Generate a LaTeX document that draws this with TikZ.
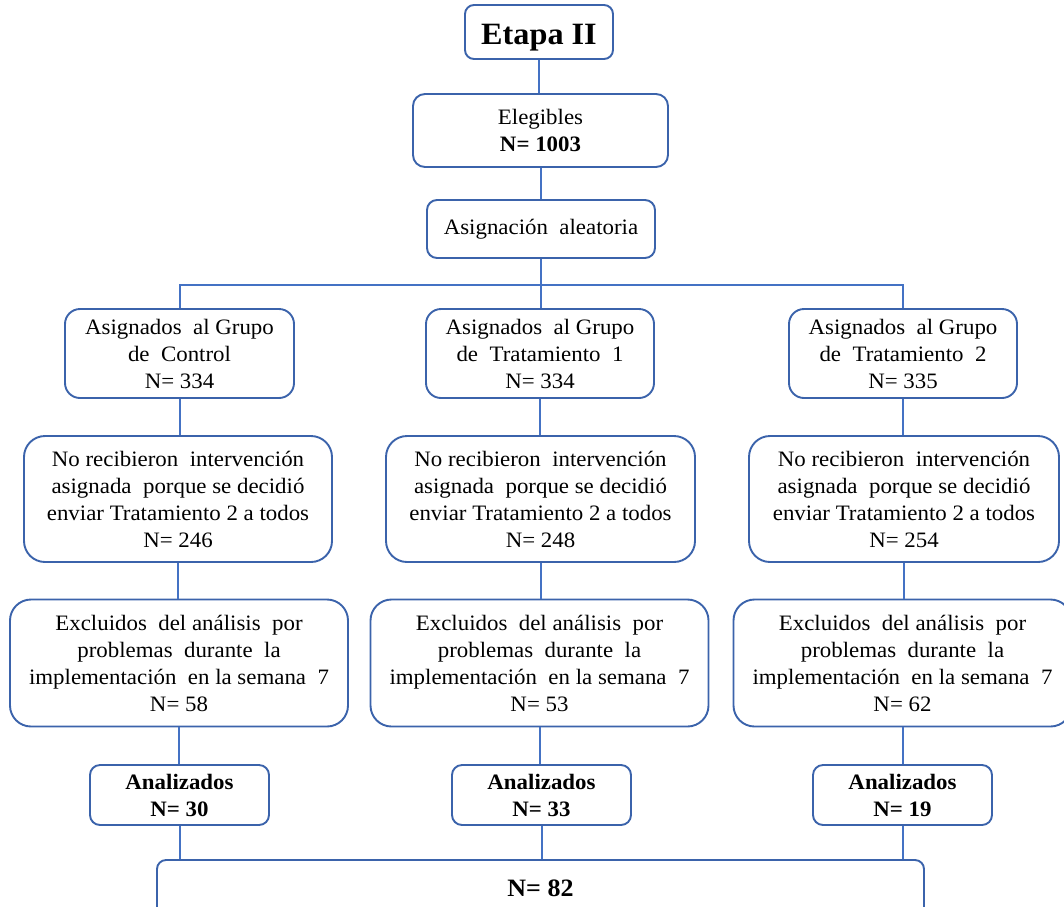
\documentclass[tikz,border=0pt]{standalone}
\usepackage{fontspec}
\setmainfont{Liberation Serif}[FakeStretch=1.04]
\definecolor{lnc}{HTML}{4472C4}
\definecolor{bdc}{HTML}{3B63AB}
\begin{document}
\begin{tikzpicture}[x=1pt,y=-1pt,
  box/.style={draw=bdc, line width=1.9pt, rounded corners=#1, align=center, inner sep=0pt, fill=white,
    font=\fontsize{22}{27}\selectfont},
  bbox/.style={box=#1, font=\fontsize{22}{27}\selectfont\bfseries},
  conn/.style={draw=lnc, line width=2pt}]
\useasboundingbox (0,0) rectangle (1064,906);
\clip (0,0) rectangle (1064,906);
% top chain
\node[box=9, minimum width=148pt, minimum height=54pt, text height=24pt, text depth=0pt, font=\fontsize{31}{34}\selectfont\bfseries] (etapa) at (539,32) {Etapa II};
\node[box=12, minimum width=255pt, minimum height=73pt] (eleg) at (540.5,130.5) {Elegibles\\\textbf{N= 1003}};
\node[box=10, minimum width=228pt, minimum height=58pt] (asig) at (541,229) {Asignación\ \ aleatoria};
% row 1
\node[box=15, minimum width=229pt, minimum height=89pt] (c1) at (179.5,353.5) {Asignados\ \ al Grupo\\de\ \ Control\\N= 334};
\node[box=15, minimum width=228pt, minimum height=89pt] (t1) at (540,353.5) {Asignados\ \ al Grupo\\de\ \ Tratamiento\ \ 1\\N= 334};
\node[box=15, minimum width=228pt, minimum height=89pt] (t2) at (903,353.5) {Asignados\ \ al Grupo\\de\ \ Tratamiento\ \ 2\\N= 335};
% row 2
\node[box=21, minimum width=308pt, minimum height=126pt] (n1) at (178,499) {No recibieron\ \ intervención\\asignada\ \ porque se decidió\\enviar Tratamiento 2 a todos\\N= 246};
\node[box=21, minimum width=309pt, minimum height=126pt] (n2) at (540.5,499) {No recibieron\ \ intervención\\asignada\ \ porque se decidió\\enviar Tratamiento 2 a todos\\N= 248};
\node[box=21, minimum width=310pt, minimum height=126pt] (n3) at (904,499) {No recibieron\ \ intervención\\asignada\ \ porque se decidió\\enviar Tratamiento 2 a todos\\N= 254};
% row 3
\node[box=21, minimum width=338pt, minimum height=127pt] (e1) at (179,663) {Excluidos\ \ del análisis\ \ por\\problemas\ \ durante\ \ la\\implementación\ \ en la semana\ \ 7\\N= 58};
\node[box=21, minimum width=338pt, minimum height=127pt] (e2) at (539.5,663) {Excluidos\ \ del análisis\ \ por\\problemas\ \ durante\ \ la\\implementación\ \ en la semana\ \ 7\\N= 53};
\node[box=21, minimum width=338pt, minimum height=127pt] (e3) at (902.5,663) {Excluidos\ \ del análisis\ \ por\\problemas\ \ durante\ \ la\\implementación\ \ en la semana\ \ 7\\N= 62};
% row 4
\node[bbox=10, minimum width=179pt, minimum height=60pt] (a1) at (179.5,795) {Analizados\\N= 30};
\node[bbox=10, minimum width=179pt, minimum height=60pt] (a2) at (541.5,795) {Analizados\\N= 33};
\node[bbox=10, minimum width=179pt, minimum height=60pt] (a3) at (902.5,795) {Analizados\\N= 19};
% final
\node[box=9, minimum width=767pt, minimum height=56pt, font=\fontsize{25}{28}\selectfont\bfseries] (fin) at (540.5,888) {N= 82};
% connectors
\draw[conn] (etapa.south) -- (etapa.south |- eleg.north);
\draw[conn] (eleg.south) -- (eleg.south |- asig.north);
\draw[conn] (asig.south) -- (asig.south |- t1.north);
\coordinate (hl) at (179,285);
\coordinate (hr) at (903,285);
\draw[conn] (c1.north) -- (c1.north |- hl) -- (hr) -- (t2.north);
\draw[conn] (c1.south) -- (c1.south |- n1.north);
\draw[conn] (t1.south) -- (t1.south |- n2.north);
\draw[conn] (t2.south) -- (t2.south |- n3.north);
\draw[conn] (n1.south) -- (n1.south |- e1.north);
\draw[conn] (n2.south) -- (n2.south |- e2.north);
\draw[conn] (n3.south) -- (n3.south |- e3.north);
\draw[conn] (e1.south) -- (e1.south |- a1.north);
\draw[conn] (e2.south) -- (e2.south |- a2.north);
\draw[conn] (e3.south) -- (e3.south |- a3.north);
\draw[conn] (a1.south) -- (a1.south |- fin.north);
\draw[conn] (a2.south) -- (a2.south |- fin.north);
\draw[conn] (a3.south) -- (a3.south |- fin.north);
\end{tikzpicture}
\end{document}
